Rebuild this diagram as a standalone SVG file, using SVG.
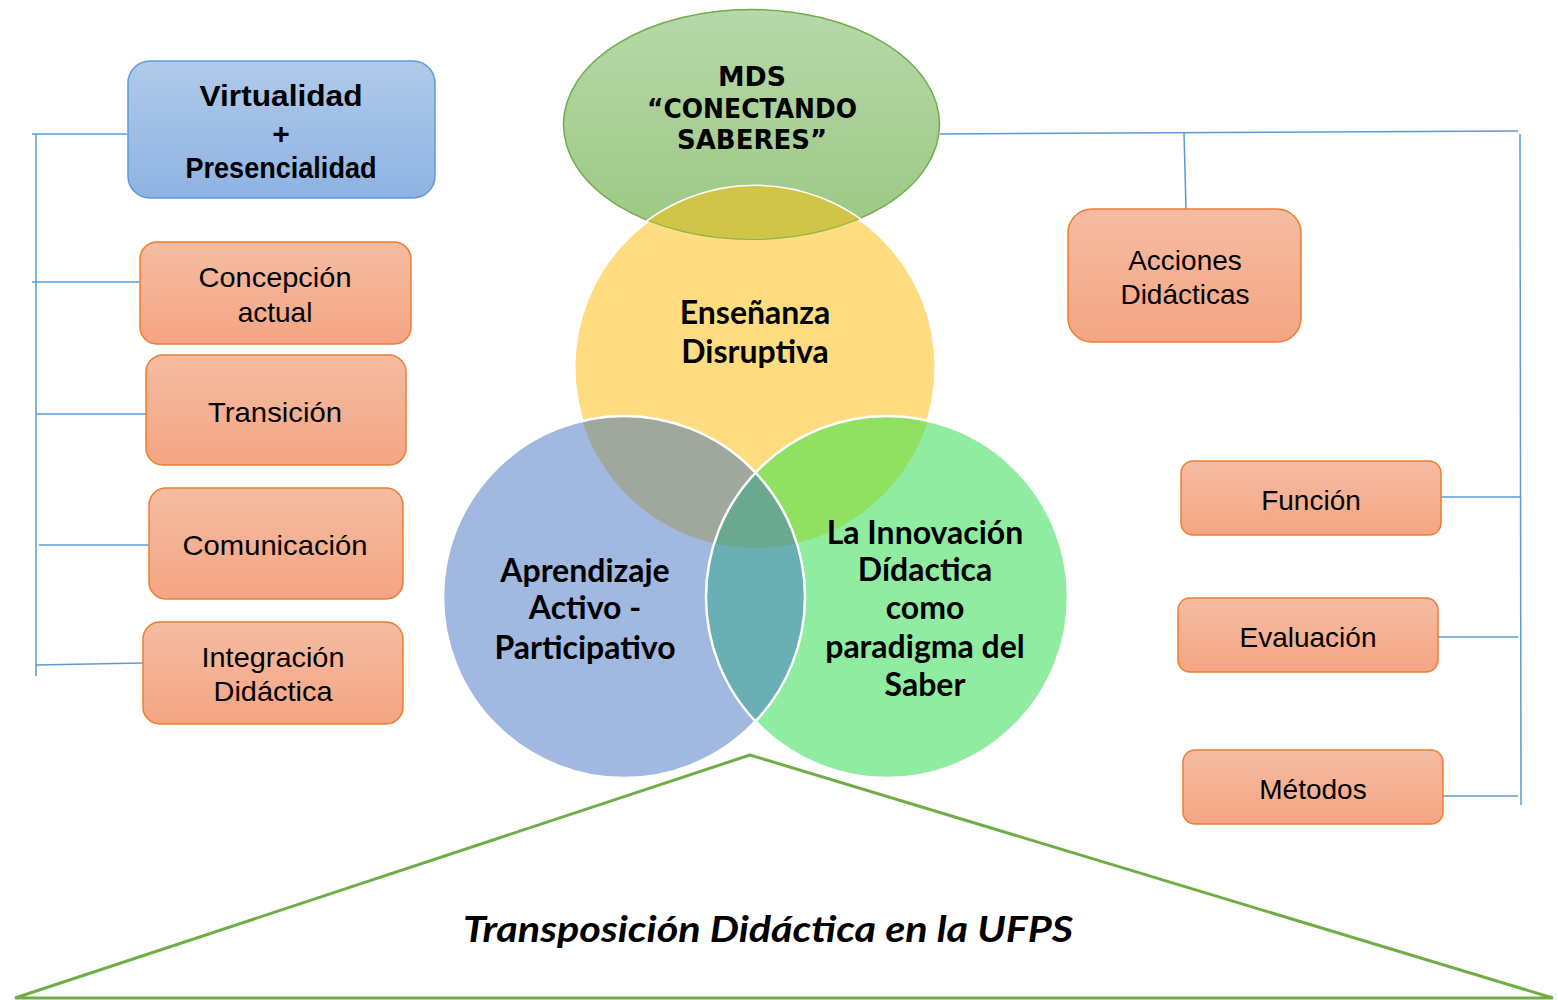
<svg xmlns="http://www.w3.org/2000/svg" width="1558" height="1000" viewBox="0 0 1558 1000">
<style>
.conn{stroke:#5B9BD5;stroke-width:1.5;fill:none}
.obox{fill:url(#og);stroke:#ED7D31;stroke-width:1.5}
.bt{font-family:"Liberation Sans",Arial,sans-serif;font-size:28px;fill:#000;text-anchor:middle}
.bb{font-family:"Liberation Sans",Arial,sans-serif;font-size:30px;font-weight:bold;fill:#000;text-anchor:middle}
.vt{font-family:Lato,"Open Sans",sans-serif;font-size:32px;font-weight:bold;fill:#000;text-anchor:middle}
.mt{font-family:"DejaVu Sans",Verdana,sans-serif;font-size:27px;font-weight:bold;fill:#000;text-anchor:middle}
</style>
<defs>
<linearGradient id="og" x1="0" y1="0" x2="0" y2="1"><stop offset="0" stop-color="#F5BCA2"/><stop offset="1" stop-color="#F4A583"/></linearGradient>
<linearGradient id="bg" x1="0" y1="0" x2="0" y2="1"><stop offset="0" stop-color="#B0CAE9"/><stop offset="1" stop-color="#8EB3E3"/></linearGradient>
<linearGradient id="eg" x1="0" y1="0" x2="0" y2="1"><stop offset="0" stop-color="#B7D8A9"/><stop offset="1" stop-color="#9BC883"/></linearGradient>
<clipPath id="cY"><circle cx="755" cy="367" r="181"/></clipPath>
<clipPath id="cB"><circle cx="624" cy="597" r="181"/></clipPath>
<clipPath id="cG"><circle cx="887" cy="597" r="181"/></clipPath>
</defs>

<g id="connectors">
<line class="conn" x1="36" y1="134" x2="36" y2="676"/>
<line class="conn" x1="32" y1="134" x2="127" y2="134"/>
<line class="conn" x1="32" y1="282" x2="140" y2="282"/>
<line class="conn" x1="36" y1="414" x2="146" y2="414"/>
<line class="conn" x1="39" y1="545" x2="149" y2="545"/>
<line class="conn" x1="36" y1="665" x2="143" y2="663"/>
<line class="conn" x1="940" y1="134" x2="1518" y2="131"/>
<line class="conn" x1="1184" y1="132" x2="1186" y2="209"/>
<line class="conn" x1="1520" y1="134" x2="1521" y2="805"/>
<line class="conn" x1="1441" y1="497" x2="1520" y2="497"/>
<line class="conn" x1="1438" y1="637" x2="1518" y2="637"/>
<line class="conn" x1="1438" y1="796" x2="1518" y2="796"/>
</g>

<g id="triangle">
<polygon points="750,755 15,998 1553,998" fill="none" stroke="#70AD47" stroke-width="3"/>
<text x="768" y="942" font-family="Lato,'Open Sans',sans-serif" font-size="36" font-weight="bold" font-style="italic" text-anchor="middle" textLength="610" lengthAdjust="spacingAndGlyphs">Transposición Didáctica en la UFPS</text>
</g>

<g id="mds">
<ellipse cx="751.5" cy="124.5" rx="188" ry="115" fill="url(#eg)" stroke="#70AD47" stroke-width="1.5"/>
</g>

<g id="venn">
<circle cx="755" cy="367" r="181" fill="#FEDC7F" stroke="#FFFFFF" stroke-width="3"/>
<g clip-path="url(#cY)">
<ellipse cx="751.5" cy="124.5" rx="188" ry="115" fill="#D0C449" stroke="#8DB34A" stroke-width="1.2"/>
</g>
<circle cx="624" cy="597" r="181" fill="#A1B8E0"/>
<circle cx="887" cy="597" r="181" fill="#90ECA0"/>
<g clip-path="url(#cY)">
<circle cx="624" cy="597" r="181" fill="#A0A89E"/>
<circle cx="887" cy="597" r="181" fill="#90E062"/>
</g>
<g clip-path="url(#cB)">
<circle cx="887" cy="597" r="181" fill="#6AAFB3"/>
<g clip-path="url(#cY)"><circle cx="887" cy="597" r="181" fill="#6AA890"/></g>
</g>
<circle cx="624" cy="597" r="181" fill="none" stroke="#FFFFFF" stroke-width="2.5"/>
<circle cx="887" cy="597" r="181" fill="none" stroke="#FFFFFF" stroke-width="2.5"/>
</g>

<g id="mds-text">
<text class="mt" x="752" y="86" textLength="68" lengthAdjust="spacingAndGlyphs">MDS</text>
<text class="mt" x="752" y="118" textLength="210" lengthAdjust="spacingAndGlyphs">“CONECTANDO</text>
<text class="mt" x="752" y="149" textLength="150" lengthAdjust="spacingAndGlyphs">SABERES”</text>
</g>

<g id="ensenanza">
<text class="vt" x="755" y="324">Enseñanza</text>
<text class="vt" x="755" y="363">Disruptiva</text>
</g>
<g id="aprendizaje">
<text class="vt" x="585" y="582">Aprendizaje</text>
<text class="vt" x="585" y="619">Activo -</text>
<text class="vt" x="585" y="659">Participativo</text>
</g>
<g id="innovacion">
<text class="vt" x="925" y="544">La Innovación</text>
<text class="vt" x="925" y="581">Dídactica</text>
<text class="vt" x="925" y="619">como</text>
<text class="vt" x="925" y="658">paradigma del</text>
<text class="vt" x="925" y="696">Saber</text>
</g>

<g id="virtualidad">
<rect x="128" y="61" width="307" height="137" rx="22" fill="url(#bg)" stroke="#5B9BD5" stroke-width="1.5"/>
<text class="bb" x="281" y="106" textLength="163" lengthAdjust="spacingAndGlyphs">Virtualidad</text>
<text class="bb" x="281" y="144">+</text>
<text class="bb" x="281" y="178" textLength="191" lengthAdjust="spacingAndGlyphs">Presencialidad</text>
</g>
<g id="concepcion">
<rect class="obox" x="140" y="242" width="271" height="102" rx="17"/>
<text class="bt" x="275" y="287" textLength="153" lengthAdjust="spacingAndGlyphs">Concepción</text>
<text class="bt" x="275" y="322">actual</text>
</g>
<g id="transicion">
<rect class="obox" x="146" y="355" width="260" height="110" rx="17"/>
<text class="bt" x="275" y="422" textLength="134" lengthAdjust="spacingAndGlyphs">Transición</text>
</g>
<g id="comunicacion">
<rect class="obox" x="149" y="488" width="254" height="111" rx="17"/>
<text class="bt" x="275" y="555" textLength="185" lengthAdjust="spacingAndGlyphs">Comunicación</text>
</g>
<g id="integracion">
<rect class="obox" x="143" y="622" width="260" height="102" rx="17"/>
<text class="bt" x="273" y="667" textLength="143" lengthAdjust="spacingAndGlyphs">Integración</text>
<text class="bt" x="273" y="701" textLength="119" lengthAdjust="spacingAndGlyphs">Didáctica</text>
</g>
<g id="acciones">
<rect class="obox" x="1068" y="209" width="233" height="133" rx="24"/>
<text class="bt" x="1185" y="270">Acciones</text>
<text class="bt" x="1185" y="304">Didácticas</text>
</g>
<g id="funcion">
<rect class="obox" x="1181" y="461" width="260" height="74" rx="12"/>
<text class="bt" x="1311" y="510">Función</text>
</g>
<g id="evaluacion">
<rect class="obox" x="1178" y="598" width="260" height="74" rx="12"/>
<text class="bt" x="1308" y="647">Evaluación</text>
</g>
<g id="metodos">
<rect class="obox" x="1183" y="750" width="260" height="74" rx="12"/>
<text class="bt" x="1313" y="799">Métodos</text>
</g>
</svg>
